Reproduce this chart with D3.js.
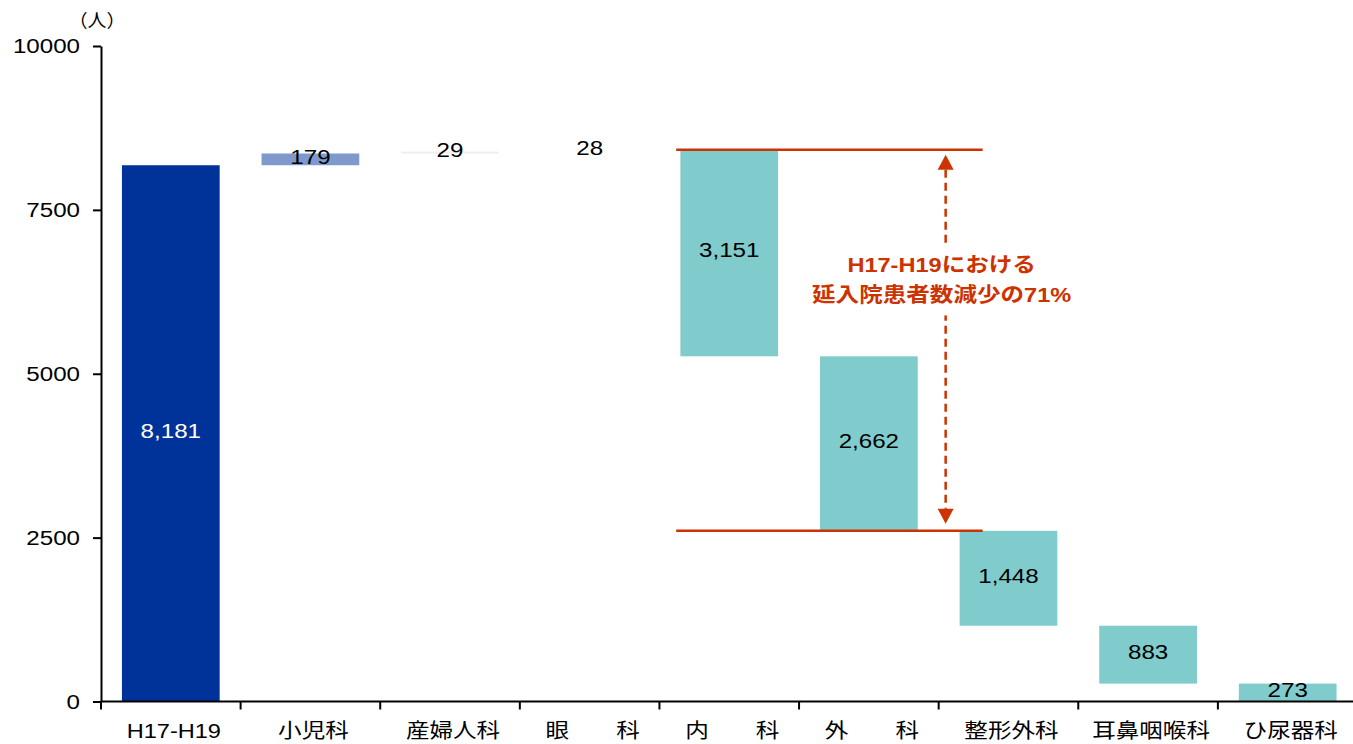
<!DOCTYPE html>
<html><head><meta charset="utf-8">
<script src="https://cdn.jsdelivr.net/npm/d3@7"></script>
<style>
html,body{margin:0;padding:0;background:#fff;}
svg{display:block;}
text{font-family:"Liberation Sans",Arial,"Noto Sans CJK JP",sans-serif;}
</style></head>
<body>
<svg id="chart" width="1353" height="744"></svg>
<script>
// ---- data ----
const categories = ['H17-H19','小児科','産婦人科','眼　　科','内　　科','外　　科','整形外科','耳鼻咽喉科','ひ尿器科'];
const values = [8181, 179, 29, 28, -3151, -2662, -1448, -883, -273];
const yTicks = [0, 2500, 5000, 7500, 10000];
const unitLabel = '（人）';
const noteLines = ['H17-H19における', '延入院患者数減少の71%'];

// ---- style ----
const barColors = ['#003399','#7F99CC','#EEEEEE','#FFFFFF','#80CCCC','#80CCCC','#80CCCC','#80CCCC','#80CCCC'];
const labelColors = ['#FFFFFF','#000','#000','#000','#000','#000','#000','#000','#000'];
const red = '#CC3300';
const SX = 1.15; // horizontal stretch of text as in reference

const svg = d3.select('#chart');
const y = d3.scaleLinear().domain([0, 10000]).range([701.5, 46]);
const xSlot = d3.scaleBand().domain(categories).range([101, 1357.5]).padding(0);
const bw = xSlot.bandwidth();

// waterfall
let cum = 0;
const bars = categories.map((c, i) => {
  const v = values[i];
  const start = i === 0 ? 0 : cum;
  const end = i === 0 ? v : cum + v;
  cum = end;
  return {c, v, lo: Math.min(start, end), hi: Math.max(start, end), i};
});

svg.append('g').selectAll('rect').data(bars).join('rect')
  .attr('x', d => xSlot(d.c) + bw * 0.15)
  .attr('width', bw * 0.7)
  .attr('y', d => y(d.hi))
  .attr('height', d => y(d.lo) - y(d.hi))
  .attr('fill', d => barColors[d.i]);

// bar labels
const fmt = d3.format(',');
svg.append('g').selectAll('text').data(bars).join('text')
  .attr('transform', d => `translate(${xSlot(d.c) + bw / 2},${y((d.lo + d.hi) / 2) - 3}) scale(${SX},1)`)
  .attr('text-anchor', 'middle').attr('dy', '0.35em')
  .attr('font-size', 21).attr('fill', d => labelColors[d.i])
  .text(d => fmt(Math.abs(d.v)));

// y axis
const yAxis = svg.append('g').attr('transform', 'translate(101,0)')
  .call(d3.axisLeft(y).tickValues(yTicks).tickSize(8).tickSizeOuter(0).tickFormat(d3.format('d')));
yAxis.select('.domain').attr('stroke', '#000').attr('stroke-width', 2);
yAxis.selectAll('.tick line').attr('stroke', '#000').attr('stroke-width', 2);
yAxis.selectAll('.tick text').attr('x', 0).attr('transform', `translate(-21,0) scale(${SX},1)`)
  .attr('font-size', 21).attr('fill', '#000').attr('font-family', null);

// unit
svg.append('text').attr('transform', `translate(97,27) scale(1.05,1)`)
  .attr('text-anchor', 'middle').attr('font-size', 18).attr('fill', '#000').text(unitLabel);

// x axis
const x0 = y(0);
const xg = svg.append('g');
xg.append('line').attr('x1', 101).attr('x2', 1353).attr('y1', x0).attr('y2', x0)
  .attr('stroke', '#000').attr('stroke-width', 2);
xg.selectAll('line.tk').data(categories).join('line').attr('class', 'tk')
  .attr('x1', d => xSlot(d)).attr('x2', d => xSlot(d))
  .attr('y1', x0).attr('y2', x0 + 8).attr('stroke', '#000').attr('stroke-width', 2);
xg.selectAll('text').data(categories).join('text')
  .attr('transform', d => `translate(${xSlot(d) + bw / 2 + 3},${x0 + 36.5}) scale(${SX},1)`)
  .attr('text-anchor', 'middle').attr('font-size', 20.5).attr('fill', '#000')
  .style('white-space', 'pre')
  .text(d => d);

// annotation
const topVal = bars[4].hi, botVal = bars[5].lo;
const lx1 = xSlot(categories[4]) + bw * 0.12;
const lx2 = xSlot(categories[6]) + bw * 0.315;
const ax = xSlot(categories[6]) + bw * 0.05;
const ann = svg.append('g');
[topVal, botVal].forEach(v => {
  ann.append('line').attr('x1', lx1).attr('x2', lx2).attr('y1', y(v)).attr('y2', y(v))
    .attr('stroke', red).attr('stroke-width', 2.5);
});
const tipTop = y(topVal) + 5, tipBot = y(botVal) - 7, ah = 15, aw = 8;
ann.append('line').attr('x1', ax).attr('x2', ax).attr('y1', tipTop + ah).attr('y2', tipBot - ah)
  .attr('stroke', red).attr('stroke-width', 2.5).attr('stroke-dasharray', '8,5');
ann.append('path').attr('d', `M${ax},${tipTop}L${ax - aw},${tipTop + ah}L${ax + aw},${tipTop + ah}Z`).attr('fill', red);
ann.append('path').attr('d', `M${ax},${tipBot}L${ax - aw},${tipBot - ah}L${ax + aw},${tipBot - ah}Z`).attr('fill', red);
const noteVals = [6547, 6088];
ann.append('rect').attr('x', ax - 140).attr('y', y(noteVals[0]) - 27).attr('width', 280)
  .attr('height', y(noteVals[1]) - y(noteVals[0]) + 40).attr('fill', '#fff');
ann.selectAll('text.note').data(noteLines).join('text').attr('class', 'note')
  .attr('transform', (d, i) => `translate(${ax - 4},${y(noteVals[i])}) scale(${SX},1)`)
  .attr('text-anchor', 'middle').attr('font-size', 20.5).attr('font-weight', 'bold')
  .attr('fill', red).text(d => d);
</script>
</body></html>
